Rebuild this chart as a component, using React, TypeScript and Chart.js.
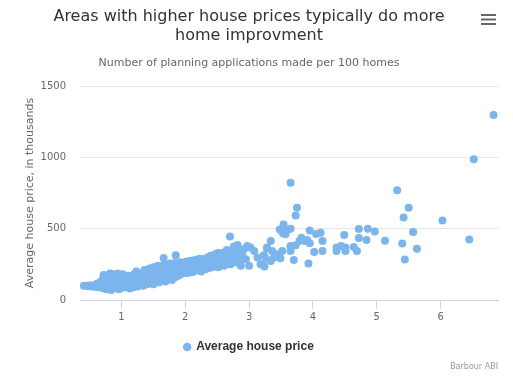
import React, { useEffect, useRef } from "react";
import { Chart, registerables } from "chart.js";

Chart.register(...registerables);

const titleLines = ["Areas with higher house prices typically do more", "home improvment"];
const subtitleText = "Number of planning applications made per 100 homes";
const yAxisTitle = "Average house price, in thousands";
const seriesName = "Average house price";
const creditText = "Barbour ABI";
const xTickValues = [1, 2, 3, 4, 5, 6];
const yTickValues = [0, 500, 1000, 1500];

// [applications per 100 homes, average house price (thousands)]
const lowBand: [number, number][] = [
  [0.41, 100], [0.45, 98], [0.49, 101], [0.52, 97], [0.55, 103], [0.57, 92], [0.6, 100], [0.62, 115],
  [0.63, 90], [0.65, 105], [0.67, 125], [0.68, 88], [0.7, 140], [0.7, 100], [0.72, 175], [0.72, 80],
  [0.73, 120], [0.74, 155], [0.75, 95], [0.76, 135], [0.77, 75], [0.78, 170], [0.79, 110], [0.8, 150],
  [0.81, 90], [0.82, 185], [0.83, 125], [0.84, 70], [0.85, 160], [0.86, 105], [0.87, 140], [0.88, 180],
  [0.89, 85], [0.9, 120], [0.91, 165], [0.92, 95], [0.93, 150], [0.94, 185], [0.95, 110], [0.96, 75],
  [0.97, 135], [0.98, 170], [0.99, 95], [1.0, 155], [1.0, 120], [1.01, 85], [1.02, 180], [1.03, 105],
  [1.04, 140], [1.05, 160], [1.06, 90], [1.07, 125], [1.08, 110], [1.09, 150], [1.1, 95], [1.11, 170],
  [1.12, 130], [1.13, 80], [1.14, 115], [1.15, 145], [1.16, 100], [1.17, 160], [1.18, 125], [1.19, 90],
];

const midBand: [number, number][] = [
  [1.2, 180], [1.21, 140], [1.22, 110], [1.23, 200], [1.24, 130], [1.25, 95], [1.26, 165], [1.27, 120],
  [1.28, 150], [1.29, 105], [1.3, 185], [1.31, 135], [1.32, 115], [1.33, 170], [1.34, 100], [1.35, 150],
  [1.36, 210], [1.37, 125], [1.38, 190], [1.39, 140], [1.4, 110], [1.41, 175], [1.42, 160], [1.43, 130],
  [1.44, 220], [1.45, 150], [1.46, 120], [1.47, 195], [1.48, 170], [1.49, 140], [1.5, 230], [1.5, 110],
  [1.51, 185], [1.52, 155], [1.53, 130], [1.54, 210], [1.55, 170], [1.56, 145], [1.57, 240], [1.58, 190],
  [1.59, 125], [1.6, 215], [1.61, 160], [1.62, 180], [1.63, 140], [1.64, 230], [1.65, 200], [1.66, 295],
  [1.66, 155], [1.67, 250], [1.68, 185], [1.69, 130], [1.7, 220], [1.71, 170], [1.72, 240], [1.73, 150],
  [1.74, 205], [1.75, 185], [1.76, 255], [1.77, 165], [1.78, 225], [1.79, 140], [1.8, 200], [1.81, 245],
  [1.82, 180], [1.83, 260], [1.84, 160], [1.85, 314], [1.85, 215], [1.86, 235], [1.87, 190], [1.88, 255],
  [1.89, 170], [1.9, 225], [1.91, 200], [1.92, 265], [1.93, 180], [1.94, 240], [1.95, 210], [1.96, 250],
  [1.97, 190], [1.98, 230], [1.99, 265],
];

const upperBand: [number, number][] = [
  [2.0, 200], [2.01, 245], [2.02, 215], [2.03, 270], [2.04, 190], [2.05, 235], [2.06, 255], [2.07, 205],
  [2.08, 275], [2.09, 225], [2.1, 245], [2.11, 195], [2.12, 265], [2.13, 215], [2.14, 240], [2.15, 280],
  [2.16, 205], [2.17, 255], [2.18, 230], [2.19, 270], [2.2, 210], [2.21, 250], [2.22, 290], [2.23, 225],
  [2.24, 260], [2.25, 200], [2.26, 240], [2.27, 285], [2.28, 220], [2.29, 265], [2.3, 245], [2.31, 285],
  [2.32, 215], [2.33, 275], [2.34, 235], [2.35, 300], [2.36, 255], [2.37, 225], [2.38, 290], [2.39, 245],
  [2.4, 310], [2.41, 265], [2.42, 230], [2.43, 300], [2.44, 250], [2.45, 280], [2.46, 240], [2.47, 320],
  [2.48, 295], [2.5, 260], [2.51, 330], [2.52, 230], [2.53, 285], [2.55, 310], [2.56, 250], [2.58, 330],
  [2.6, 275], [2.61, 240], [2.63, 300], [2.65, 350], [2.66, 265], [2.68, 320], [2.7, 445], [2.7, 285],
  [2.71, 250], [2.73, 340], [2.75, 300], [2.76, 375], [2.78, 265], [2.8, 330], [2.82, 385], [2.83, 285],
  [2.85, 355], [2.86, 250],
];

const spreadBand: [number, number][] = [
  [2.87, 240], [2.89, 321], [2.92, 356], [2.95, 286], [2.97, 379], [3.0, 240], [3.02, 368], [3.08, 344],
  [3.13, 298], [3.18, 251], [3.21, 251], [3.23, 314], [3.24, 235], [3.26, 291], [3.28, 361], [3.28, 368],
  [3.34, 274], [3.34, 414], [3.36, 344], [3.39, 298], [3.44, 321], [3.48, 495], [3.49, 293], [3.52, 344],
  [3.53, 467], [3.53, 500], [3.54, 530], [3.57, 461], [3.6, 490], [3.65, 821], [3.65, 500], [3.65, 379],
  [3.65, 344], [3.65, 368], [3.7, 281], [3.73, 593], [3.73, 384], [3.75, 647], [3.79, 414], [3.82, 437],
  [3.88, 414], [3.91, 421], [3.93, 256], [3.95, 488], [3.95, 398], [4.02, 337], [4.05, 463], [4.12, 472],
  [4.15, 414], [4.15, 344],
];

const highBand: [number, number][] = [
  [4.37, 368], [4.37, 344], [4.44, 379], [4.49, 456], [4.51, 368], [4.51, 344], [4.64, 372], [4.69, 344],
  [4.72, 498], [4.72, 435], [4.84, 421], [4.86, 500], [4.97, 481], [5.13, 416], [5.32, 770], [5.4, 396],
  [5.42, 579], [5.44, 284], [5.5, 647], [5.57, 477], [5.63, 360], [6.03, 558], [6.45, 424], [6.52, 986],
  [6.83, 1296],
];

const font = "'DejaVu Sans', sans-serif";

const extrasPlugin = {
  id: "extras",
  afterDraw(chart: any) {
    const ctx = chart.ctx;
    ctx.save();
    ctx.strokeStyle = "#666666";
    ctx.lineWidth = 2;
    [15, 19.5, 24].forEach((y) => {
      ctx.beginPath();
      ctx.moveTo(481, y);
      ctx.lineTo(496, y);
      ctx.stroke();
    });
    ctx.fillStyle = "#999999";
    ctx.font = `8px ${font}`;
    ctx.textAlign = "right";
    ctx.textBaseline = "middle";
    ctx.fillText(creditText, 498, 367);
    ctx.restore();
  },
};

export default function App() {
  const ref = useRef<HTMLCanvasElement>(null);
  useEffect(() => {
    document.body.style.margin = "0";
    const points = [...lowBand, ...midBand, ...upperBand, ...spreadBand, ...highBand].map(([x, y]) => ({ x, y }));
    const chart = new Chart(ref.current!, {
      type: "scatter",
      data: {
        datasets: [
          {
            label: seriesName,
            data: points,
            backgroundColor: "#7cb5ec",
            borderColor: "#7cb5ec",
            borderWidth: 0,
            pointRadius: 4,
            pointHoverRadius: 4,
          },
        ],
      },
      options: {
        animation: false,
        responsive: false,
        devicePixelRatio: 1,
        layout: { padding: { left: 0, right: 15, top: 0, bottom: 21 } },
        plugins: {
          title: {
            display: true,
            text: titleLines,
            color: "#333333",
            font: { family: font, size: 16, weight: "normal", lineHeight: 1.2 },
            padding: { top: 7.4, bottom: 0 },
          },
          subtitle: {
            display: true,
            text: subtitleText,
            color: "#666666",
            font: { family: font, size: 11, weight: "normal", lineHeight: 1.2 },
            padding: { top: 10.6, bottom: 16.4 },
          },
          legend: {
            display: true,
            position: "bottom",
            labels: {
              usePointStyle: true,
              pointStyle: "circle",
              boxWidth: 6,
              boxHeight: 6,
              color: "#333333",
              font: { family: "'Liberation Sans', sans-serif", size: 12, weight: "bold" },
              padding: 10,
            },
          },
          tooltip: { enabled: false },
        },
        scales: {
          x: {
            type: "linear",
            min: 0.35,
            max: 6.9,
            afterBuildTicks: (scale: any) => {
              scale.ticks = xTickValues.map((v) => ({ value: v }));
            },
            afterFit: (scale: any) => {
              scale.height = 31;
            },
            grid: { display: true, drawOnChartArea: false, drawTicks: true, tickLength: 9, color: "#ccd6eb" },
            border: { display: true, color: "#ccd6eb", width: 1 },
            ticks: {
              color: "#666666",
              font: { family: font, size: 10 },
              padding: 2,
              maxRotation: 0,
              autoSkip: false,
              callback: (v: any) => String(v),
            },
          },
          y: {
            type: "linear",
            min: 0,
            max: 1500,
            afterBuildTicks: (scale: any) => {
              scale.ticks = yTickValues.map((v) => ({ value: v }));
            },
            afterFit: (scale: any) => {
              scale.width = 80;
            },
            grid: { color: "#e6e6e6", drawTicks: false, lineWidth: 1 },
            border: { display: false },
            ticks: {
              color: "#666666",
              font: { family: font, size: 10 },
              padding: 14,
              callback: (v: any) => String(v),
            },
            title: {
              display: true,
              text: yAxisTitle,
              color: "#666666",
              font: { family: font, size: 11, weight: "normal", lineHeight: 1.2 },
              padding: { top: 23.4, bottom: 0 },
            },
          },
        },
      },
      plugins: [extrasPlugin],
    } as any);
    return () => chart.destroy();
  }, []);
  return (
    <div style={{ position: "fixed", left: 0, top: 0, width: 513, height: 384, background: "#ffffff" }}>
      <canvas ref={ref} width={513} height={384} style={{ display: "block" }} />
    </div>
  );
}
